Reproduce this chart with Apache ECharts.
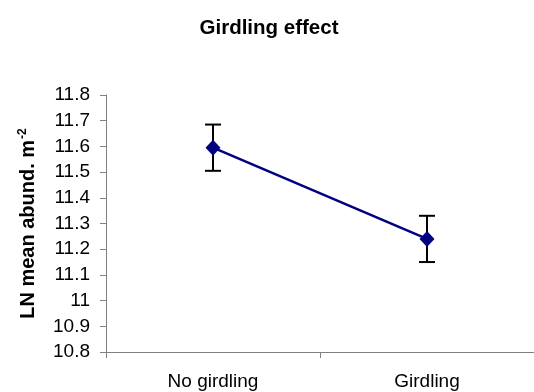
<!DOCTYPE html>
<html>
<head>
<meta charset="utf-8">
<script src="https://cdn.jsdelivr.net/npm/echarts@6/dist/echarts.min.js"></script>
<style>
  html, body { margin: 0; padding: 0; background: #fff; }
  #chart { width: 534px; height: 392px; }
</style>
</head>
<body>
<div id="chart"></div>
<script>
// Treatment groups and their mean log abundance with error margins
const categories = ['No girdling', 'Girdling'];
const means = [11.595, 11.24];
const errors = [0.09, 0.09];

// Value axis range and step
const yMin = 10.8;
const yMax = 11.8;
const yStep = 0.1;

const FONT = 'Liberation Sans, Arial, sans-serif';

const chart = echarts.init(document.getElementById('chart'), null, { renderer: 'canvas' });

const errorData = categories.map((c, i) => [i, means[i] - errors[i], means[i] + errors[i]]);

chart.setOption({
  animation: false,
  backgroundColor: '#ffffff',
  title: {
    text: 'Girdling effect',
    left: 264,
    textAlign: 'center',
    top: 13,
    textStyle: { fontFamily: FONT, fontWeight: 'bold', fontSize: 20.5, color: '#000' }
  },
  grid: { left: 106, top: 95, width: 434, height: 257, containLabel: false },
  xAxis: {
    type: 'category',
    data: categories,
    boundaryGap: true,
    axisLine: { lineStyle: { color: '#808080', width: 1 } },
    axisTick: { show: true, length: 6, alignWithLabel: false, lineStyle: { color: '#808080' } },
    axisLabel: { margin: 20, fontFamily: FONT, fontSize: 19, color: '#000' },
    splitLine: { show: false }
  },
  yAxis: {
    type: 'value',
    min: yMin,
    max: yMax,
    interval: yStep,
    name: '{a|LN mean abund. m}{b|-2}',
    nameLocation: 'middle',
    nameRotate: 90,
    nameGap: 67,
    nameTextStyle: {
      rich: {
        a: { fontFamily: FONT, fontWeight: 'bold', fontSize: 20, color: '#000' },
        b: { fontFamily: FONT, fontWeight: 'bold', fontSize: 12, color: '#000', verticalAlign: 'top', padding: [0, 0, 10, 1] }
      }
    },
    axisLine: { show: true, lineStyle: { color: '#808080', width: 1 } },
    axisTick: { show: true, length: 6, lineStyle: { color: '#808080' } },
    axisLabel: {
      margin: 16,
      fontFamily: FONT,
      fontSize: 19,
      color: '#000',
      formatter: v => String(Number(v.toFixed(1)))
    },
    splitLine: { show: false }
  },
  series: [
    {
      type: 'custom',
      z: 1,
      data: errorData,
      renderItem: function (params, api) {
        const x = api.value(0);
        const lo = api.coord([x, api.value(1)]);
        const hi = api.coord([x, api.value(2)]);
        const half = 8;
        const style = { stroke: '#000', lineWidth: 2, fill: null };
        return {
          type: 'group',
          children: [
            { type: 'line', shape: { x1: hi[0], y1: hi[1], x2: lo[0], y2: lo[1] }, style: style },
            { type: 'line', shape: { x1: hi[0] - half, y1: hi[1], x2: hi[0] + half, y2: hi[1] }, style: style },
            { type: 'line', shape: { x1: lo[0] - half, y1: lo[1], x2: lo[0] + half, y2: lo[1] }, style: style }
          ]
        };
      }
    },
    {
      type: 'line',
      z: 3,
      data: means,
      symbol: 'diamond',
      symbolSize: [15, 16],
      lineStyle: { color: '#000080', width: 2.5 },
      itemStyle: { color: '#000080' }
    }
  ]
});
</script>
</body>
</html>
